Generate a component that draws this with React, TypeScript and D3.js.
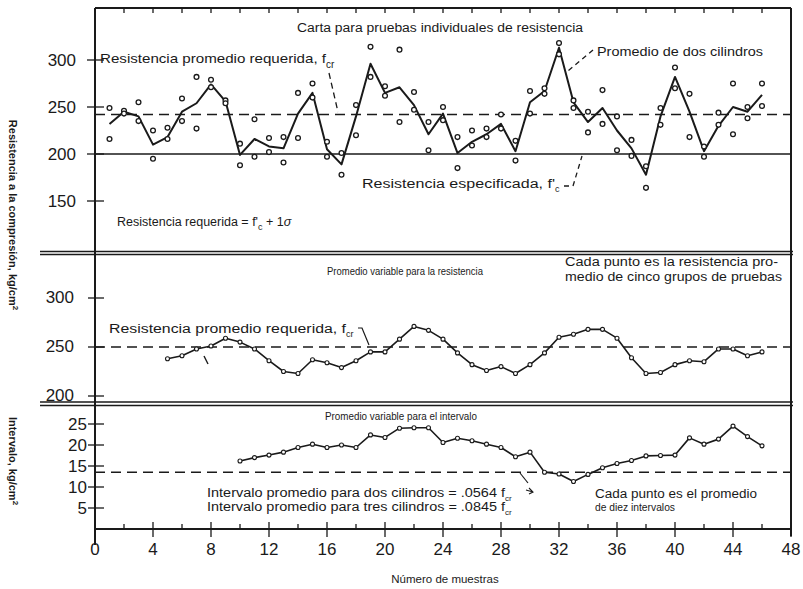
import React from 'react';
import * as d3 from 'd3';

// Carta para pruebas individuales: dos cilindros por muestra (1..46)
const cilindroA = [249, 246, 255, 225, 228, 259, 282, 279, 257, 211, 237, 217, 218, 265, 275, 213, 201, 252, 314, 272, 311, 266, 234, 250, 218, 225, 227, 242, 214, 267, 270, 318, 257, 245, 268, 240, 215, 187, 249, 292, 264, 208, 244, 275, 250, 275];
const cilindroB = [216, 243, 235, 195, 216, 235, 227, 271, 254, 188, 197, 202, 191, 217, 260, 197, 178, 220, 282, 262, 234, 247, 204, 236, 185, 209, 218, 227, 193, 243, 264, 306, 249, 223, 232, 204, 198, 164, 231, 270, 218, 197, 231, 221, 238, 251];
const promedioDos = [232, 245, 240, 210, 218, 245, 254, 274, 256, 199, 216, 208, 206, 243, 265, 205, 189, 240, 296, 265, 271, 252, 221, 243, 201, 213, 221, 232, 203, 255, 267, 313, 255, 234, 249, 225, 206, 178, 240, 282, 245, 203, 230, 250, 245, 263];

// Promedio variable para la resistencia (muestras 5..46)
const inicioResist = 5;
const promedioResist = [238, 241, 248, 251, 259, 255, 248, 236, 225, 223, 237, 234, 229, 236, 245, 245, 258, 271, 267, 258, 244, 232, 226, 230, 223, 232, 244, 260, 263, 268, 268, 259, 239, 223, 224, 232, 236, 235, 248, 248, 241, 245];

// Promedio variable para el intervalo (muestras 10..46)
const inicioInterv = 10;
const promedioInterv = [16.2, 17, 17.6, 18.3, 19.4, 20.2, 19.4, 20, 19.4, 22.4, 21.8, 24, 24.1, 24.1, 20.6, 21.6, 21, 20.2, 19.4, 17.2, 18.3, 13.5, 13.1, 11.3, 13, 14.6, 15.6, 16.3, 17.4, 17.5, 17.6, 21.7, 20.2, 21.4, 24.5, 22, 19.8];

const fcr1 = 242;
const fc = 200;
const fcr2 = 250;
const intervaloProm = 13.5;

const xTicks = [0, 4, 8, 12, 16, 20, 24, 28, 32, 36, 40, 44, 48];
const yTicks1 = [300, 250, 200, 150];
const yTicks2 = [300, 250, 200];
const yTicks3 = [25, 20, 15, 10, 5];

const font = '"Liberation Sans", Arial, sans-serif';
const ink = '#1a1a1a';

export default function App() {
  const x = d3.scaleLinear().domain([0, 48]).range([95, 791]);
  const y1 = d3.scaleLinear().domain([200, 300]).range([154, 60]);
  const y2 = d3.scaleLinear().domain([200, 300]).range([396, 298]);
  const y3 = d3.scaleLinear().domain([0, 25]).range([529, 424]);

  const left = x(0);
  const right = x(48);

  const line1 = d3.line<number>().x((d, i) => x(i + 1)).y(d => y1(d));
  const line2 = d3.line<number>().x((d, i) => x(i + inicioResist)).y(d => y2(d));
  const line3 = d3.line<number>().x((d, i) => x(i + inicioInterv)).y(d => y3(d));

  const minor = d3.range(0, 49, 2);

  const txt = (props: any, children: any) => (
    <text fontFamily={font} fill={ink} {...props}>{children}</text>
  );

  return (
    <svg width={803} height={589} style={{ position: 'absolute', left: 0, top: 0, background: '#fff' }}>
      {/* marco */}
      <line x1={left} x2={right} y1={8} y2={8} stroke={ink} strokeWidth={2} />
      <line x1={left} x2={left} y1={8} y2={545} stroke={ink} strokeWidth={2} />
      <line x1={right} x2={right} y1={8} y2={536} stroke={ink} strokeWidth={2} />
      <line x1={left} x2={right} y1={y3(0)} y2={y3(0)} stroke={ink} strokeWidth={2} />
      {[251.5, 254.5, 402, 405.5].map(v => (
        <line key={v} x1={40} x2={right + 2} y1={v} y2={v} stroke={ink} strokeWidth={1.4} />
      ))}

      {/* ticks superiores e inferiores */}
      {minor.map(t => (
        <g key={t}>
          <line x1={x(t)} x2={x(t)} y1={8} y2={13} stroke={ink} strokeWidth={1.3} />
          {t % 4 === 0
            ? <line x1={x(t)} x2={x(t)} y1={522} y2={537} stroke={ink} strokeWidth={1.3} />
            : <line x1={x(t)} x2={x(t)} y1={524} y2={529} stroke={ink} strokeWidth={1.3} />}
        </g>
      ))}
      {xTicks.map(t => txt({ key: t, x: x(t), y: 555, fontSize: 17, textAnchor: 'middle' }, t))}
      {txt({ x: 445, y: 583, fontSize: 11.5, textAnchor: 'middle' }, 'Número de muestras')}

      {/* ticks eje y */}
      {yTicks1.map(t => (
        <g key={'a' + t}>
          <line x1={87} x2={104} y1={y1(t)} y2={y1(t)} stroke={ink} strokeWidth={1.3} />
          {txt({ x: 76, y: y1(t) + 6, fontSize: 17, textAnchor: 'end' }, t)}
        </g>
      ))}
      {yTicks2.map(t => (
        <g key={'b' + t}>
          <line x1={88} x2={104} y1={y2(t)} y2={y2(t)} stroke={ink} strokeWidth={1.3} />
          {txt({ x: 74, y: y2(t) + 5, fontSize: 17, textAnchor: 'end' }, t)}
        </g>
      ))}
      {yTicks3.map(t => (
        <g key={'c' + t}>
          <line x1={88} x2={104} y1={y3(t)} y2={y3(t)} stroke={ink} strokeWidth={1.3} />
          {txt({ x: 87, y: y3(t) + 6, fontSize: 17, textAnchor: 'end' }, t)}
        </g>
      ))}

      {/* títulos de ejes y */}
      <text fontFamily={font} fill={ink} fontSize={11} fontWeight="bold" textAnchor="middle"
        transform="translate(9,215) rotate(90)">
        Resistencia a la compresión, kg/cm<tspan dy={-4} fontSize={8}>2</tspan>
      </text>
      <text fontFamily={font} fill={ink} fontSize={11} fontWeight="bold" textAnchor="middle"
        transform="translate(9,461) rotate(90)">
        Intervalo, kg/cm<tspan dy={-4} fontSize={8}>2</tspan>
      </text>

      {/* ===== Panel 1 ===== */}
      <line x1={left} x2={right} y1={y1(fcr1)} y2={y1(fcr1)} stroke={ink} strokeWidth={1.6} strokeDasharray="10 6" />
      <line x1={left} x2={right} y1={y1(fc)} y2={y1(fc)} stroke={ink} strokeWidth={1.6} />
      <path d={line1(promedioDos) || ''} fill="none" stroke={ink} strokeWidth={2} strokeLinejoin="round" />
      {cilindroA.map((d, i) => (
        <circle key={'A' + i} cx={x(i + 1)} cy={y1(d)} r={2.4} fill="#fff" stroke={ink} strokeWidth={1.3} />
      ))}
      {cilindroB.map((d, i) => (
        <circle key={'B' + i} cx={x(i + 1)} cy={y1(d)} r={2.4} fill="#fff" stroke={ink} strokeWidth={1.3} />
      ))}

      {txt({ x: 297, y: 32, fontSize: 12, textLength: 286, lengthAdjust: 'spacingAndGlyphs' }, 'Carta para pruebas individuales de resistencia')}
      <text fontFamily={font} fill={ink} fontSize={13} x={100} y={63}>
        <tspan textLength={226} lengthAdjust="spacingAndGlyphs">Resistencia promedio requerida, f</tspan>
        <tspan dy={5} fontSize={10}>cr</tspan>
      </text>
      <path d="M329,73 L338,112" fill="none" stroke={ink} strokeWidth={1.3} strokeDasharray="6 4" />
      {txt({ x: 597, y: 56, fontSize: 13, textLength: 166, lengthAdjust: 'spacingAndGlyphs' }, 'Promedio de dos cilindros')}
      <path d="M593,50 L568,71" fill="none" stroke={ink} strokeWidth={1.3} strokeDasharray="5 4" />
      <text fontFamily={font} fill={ink} fontSize={12} x={362} y={188}>
        <tspan textLength={193} lengthAdjust="spacingAndGlyphs">Resistencia especificada, f'</tspan>
        <tspan dy={4} fontSize={9}>c</tspan>
      </text>
      <path d="M564,186 L573,186 L582,156" fill="none" stroke={ink} strokeWidth={1.3} strokeDasharray="5 4" />
      <text fontFamily={font} fill={ink} fontSize={12.5} x={117} y={226}>
        Resistencia requerida = f'<tspan dy={4} fontSize={9}>c</tspan><tspan dy={-4}> + 1</tspan><tspan fontStyle="italic">σ</tspan>
      </text>

      {/* ===== Panel 2 ===== */}
      <line x1={left} x2={right} y1={y2(fcr2)} y2={y2(fcr2)} stroke={ink} strokeWidth={1.6} strokeDasharray="10 6" />
      <path d={line2(promedioResist) || ''} fill="none" stroke={ink} strokeWidth={1.6} strokeLinejoin="round" />
      {promedioResist.map((d, i) => (
        <circle key={'R' + i} cx={x(i + inicioResist)} cy={y2(d)} r={2} fill="#fff" stroke={ink} strokeWidth={1.1} />
      ))}
      {txt({ x: 327, y: 275, fontSize: 10.5, textLength: 156, lengthAdjust: 'spacingAndGlyphs' }, 'Promedio variable para la resistencia')}
      {txt({ x: 565, y: 266, fontSize: 12, textLength: 213, lengthAdjust: 'spacingAndGlyphs' }, 'Cada punto es la resistencia pro-')}
      {txt({ x: 565, y: 281, fontSize: 12, textLength: 217, lengthAdjust: 'spacingAndGlyphs' }, 'medio de cinco grupos de pruebas')}
      <text fontFamily={font} fill={ink} fontSize={12.5} x={109} y={333}>
        <tspan textLength={237} lengthAdjust="spacingAndGlyphs">Resistencia promedio requerida, f</tspan>
        <tspan dy={4} fontSize={9}>cr</tspan>
      </text>
      <path d="M358,328 L362,328 L369,345" fill="none" stroke={ink} strokeWidth={1.2} />
      <line x1={204} x2={208} y1={356} y2={364} stroke={ink} strokeWidth={1.4} />

      {/* ===== Panel 3 ===== */}
      <line x1={left} x2={right} y1={y3(intervaloProm)} y2={y3(intervaloProm)} stroke={ink} strokeWidth={1.6} strokeDasharray="10 6" />
      <path d={line3(promedioInterv) || ''} fill="none" stroke={ink} strokeWidth={1.6} strokeLinejoin="round" />
      {promedioInterv.map((d, i) => (
        <circle key={'I' + i} cx={x(i + inicioInterv)} cy={y3(d)} r={2} fill="#fff" stroke={ink} strokeWidth={1.1} />
      ))}
      {txt({ x: 325, y: 420, fontSize: 10.5, textLength: 152, lengthAdjust: 'spacingAndGlyphs' }, 'Promedio variable para el intervalo')}
      <text fontFamily={font} fill={ink} fontSize={12} x={207} y={497}>
        <tspan textLength={298} lengthAdjust="spacingAndGlyphs">Intervalo promedio para dos cilindros = .0564 f</tspan>
        <tspan dy={4} fontSize={8}>cr</tspan>
      </text>
      <text fontFamily={font} fill={ink} fontSize={12} x={207} y={511}>
        <tspan textLength={298} lengthAdjust="spacingAndGlyphs">Intervalo promedio para tres cilindros = .0845 f</tspan>
        <tspan dy={4} fontSize={8}>cr</tspan>
      </text>
      <path d="M520,473 L528,483" fill="none" stroke={ink} strokeWidth={1.2} />
      <path d="M526,490 L533,492 M529,488 L533,492 L529,494" fill="none" stroke={ink} strokeWidth={1.1} />
      {txt({ x: 595, y: 498, fontSize: 12, textLength: 162, lengthAdjust: 'spacingAndGlyphs' }, 'Cada punto es el promedio')}
      {txt({ x: 595, y: 511, fontSize: 11, textLength: 80, lengthAdjust: 'spacingAndGlyphs' }, 'de diez intervalos')}
    </svg>
  );
}
